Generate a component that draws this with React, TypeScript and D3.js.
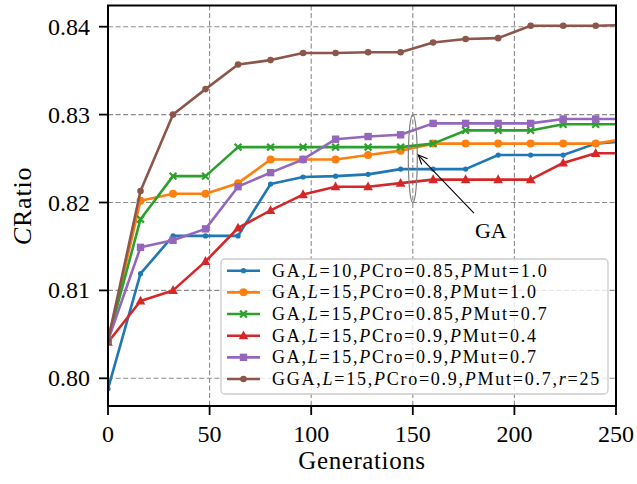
import React from "react";
import * as d3 from "d3";

const generations = [0, 16, 32, 48, 64, 80, 96, 112, 128, 144, 160, 176, 192, 208, 224, 240, 256];
const xTicks = [0, 50, 100, 150, 200, 250];
const yTicks = [0.8, 0.81, 0.82, 0.83, 0.84];
const yTickLabels = ["0.80", "0.81", "0.82", "0.83", "0.84"];

const gaL10Cro085Mut10 = [0.7988, 0.8119, 0.8162, 0.8162, 0.8162, 0.8221, 0.8229, 0.823, 0.8232, 0.8238, 0.8238, 0.8238, 0.8254, 0.8254, 0.8254, 0.8267, 0.8270];
const gaL15Cro08Mut10 = [0.8043, 0.8202, 0.821, 0.821, 0.8222, 0.8249, 0.8249, 0.8249, 0.8254, 0.8259, 0.8267, 0.8267, 0.8267, 0.8267, 0.8267, 0.8267, 0.8273];
const gaL15Cro085Mut07 = [0.8043, 0.8181, 0.823, 0.823, 0.8263, 0.8263, 0.8263, 0.8263, 0.8263, 0.8263, 0.8267, 0.8282, 0.8282, 0.8282, 0.8289, 0.8289, 0.8289];
const gaL15Cro09Mut04 = [0.8041, 0.8088, 0.81, 0.8133, 0.8171, 0.8191, 0.8209, 0.8218, 0.8218, 0.8222, 0.8226, 0.8226, 0.8226, 0.8226, 0.8245, 0.8256, 0.8256];
const gaL15Cro09Mut07 = [0.8043, 0.8149, 0.8157, 0.817, 0.8218, 0.8234, 0.8249, 0.8272, 0.8275, 0.8277, 0.829, 0.829, 0.829, 0.829, 0.8295, 0.8295, 0.8295];
const ggaL15Cro09Mut07r25 = [0.8043, 0.8213, 0.83, 0.8329, 0.8357, 0.8362, 0.837, 0.837, 0.8371, 0.8371, 0.8382, 0.8386, 0.8387, 0.8401, 0.8401, 0.8401, 0.8402];

type Tok = string | { i: string };
const legendLabels: Tok[][] = [
  ["GA,", { i: "L" }, "=10,", { i: "P" }, "Cro=0.85,", { i: "P" }, "Mut=1.0"],
  ["GA,", { i: "L" }, "=15,", { i: "P" }, "Cro=0.8,", { i: "P" }, "Mut=1.0"],
  ["GA,", { i: "L" }, "=15,", { i: "P" }, "Cro=0.85,", { i: "P" }, "Mut=0.7"],
  ["GA,", { i: "L" }, "=15,", { i: "P" }, "Cro=0.9,", { i: "P" }, "Mut=0.4"],
  ["GA,", { i: "L" }, "=15,", { i: "P" }, "Cro=0.9,", { i: "P" }, "Mut=0.7"],
  ["GGA,", { i: "L" }, "=15,", { i: "P" }, "Cro=0.9,", { i: "P" }, "Mut=0.7,", { i: "r" }, "=25"],
];

const seriesValues = [gaL10Cro085Mut10, gaL15Cro08Mut10, gaL15Cro085Mut07, gaL15Cro09Mut04, gaL15Cro09Mut07, ggaL15Cro09Mut07r25];
const colors = ["#1f77b4", "#ff7f0e", "#2ca02c", "#d62728", "#9467bd", "#8c564b"];
const markers = ["dot", "circle", "x", "triangle", "square", "bigdot"];

const FONT = "'Liberation Serif', 'Times New Roman', serif";

const W = 637, H = 484;
const L = 108, R = 616, T = 5.5, B = 406;

function Marker({ kind, x, y, color }: { kind: string; x: number; y: number; color: string }) {
  switch (kind) {
    case "dot":
      return <circle cx={x} cy={y} r={2.6} fill={color} />;
    case "bigdot":
      return <circle cx={x} cy={y} r={3.3} fill={color} />;
    case "circle":
      return <circle cx={x} cy={y} r={4} fill={color} />;
    case "triangle": {
      const s = 4.8;
      return <path d={`M${x},${y - s * 1.1}L${x + s},${y + s * 0.75}L${x - s},${y + s * 0.75}Z`} fill={color} />;
    }
    case "square":
      return <rect x={x - 3.7} y={y - 3.7} width={7.4} height={7.4} fill={color} />;
    case "x": {
      const s = 3.4;
      return (
        <g stroke={color} strokeWidth={2.2}>
          <line x1={x - s} y1={y - s} x2={x + s} y2={y + s} />
          <line x1={x - s} y1={y + s} x2={x + s} y2={y - s} />
        </g>
      );
    }
  }
  return null;
}

function TokText({ toks, x, y, size, ls }: { toks: Tok[]; x: number; y: number; size: number; ls: number }) {
  return (
    <text x={x} y={y} fontFamily={FONT} fontSize={size} letterSpacing={ls} fill="#000">
      {toks.map((t, k) =>
        typeof t === "string" ? <tspan key={k}>{t}</tspan> : <tspan key={k} fontStyle="italic">{t.i}</tspan>
      )}
    </text>
  );
}

export default function App() {
  const x = d3.scaleLinear().domain([0, 250]).range([L, R]);
  const y = d3.scaleLinear().domain([0.8, 0.84]).range([378.3, 26.7]);
  const line = d3.line<number>().x((_, i) => x(generations[i])).y((v) => y(v));

  // annotation
  const ex = x(150), eTop = y(0.83), eBot = y(0.82);
  const tip = [x(152.7), y(0.8254)];
  const tail = [x(180.1), y(0.8188)];
  const ang = Math.atan2(tail[1] - tip[1], tail[0] - tip[0]);
  const ah = 10, aw = 0.42;
  const a1 = [tip[0] + ah * Math.cos(ang + aw), tip[1] + ah * Math.sin(ang + aw)];
  const a2 = [tip[0] + ah * Math.cos(ang - aw), tip[1] + ah * Math.sin(ang - aw)];

  const legX = 221, legY = 259, legW = 387, legH = 135;
  const rowY0 = 270.7, rowPitch = 21.66;

  return (
    <svg width={W} height={H} style={{ position: "absolute", left: 0, top: 0, background: "#fff" }}>
      <defs>
        <clipPath id="plotclip">
          <rect x={L} y={T} width={R - L} height={B - T} />
        </clipPath>
      </defs>
      <rect x={0} y={0} width={W} height={H} fill="#fff" />
      {/* grid */}
      <g stroke="#8a8a8a" strokeWidth={1.1} strokeDasharray="5,2.6">
        {xTicks.slice(1, -1).map((t) => (
          <line key={t} x1={x(t)} x2={x(t)} y1={T} y2={B} />
        ))}
        {yTicks.map((t) => (
          <line key={t} x1={L} x2={R} y1={y(t)} y2={y(t)} />
        ))}
      </g>
      {/* series */}
      <g clipPath="url(#plotclip)">
        {seriesValues.map((vals, si) => (
          <g key={si}>
            <path d={line(vals) || ""} fill="none" stroke={colors[si]} strokeWidth={2.6} strokeLinejoin="round" />
            {vals.map((v, i) => (
              <Marker key={i} kind={markers[si]} x={x(generations[i])} y={y(v)} color={colors[si]} />
            ))}
          </g>
        ))}
      </g>
      {/* annotation */}
      <ellipse cx={ex} cy={(eTop + eBot) / 2} rx={x(2.2) - x(0)} ry={(eBot - eTop) / 2} fill="none" stroke="#808080" strokeWidth={1.2} />
      <line x1={tail[0]} y1={tail[1]} x2={tip[0]} y2={tip[1]} stroke="#000" strokeWidth={1.1} />
      <path d={`M${a1[0]},${a1[1]}L${tip[0]},${tip[1]}L${a2[0]},${a2[1]}`} fill="none" stroke="#000" strokeWidth={1.1} />
      <text x={x(188.4)} y={y(0.81596)} textAnchor="middle" fontFamily={FONT} fontSize={22}>GA</text>
      {/* legend */}
      <rect x={legX} y={legY} width={legW} height={legH} rx={4} fill="#fff" fillOpacity={0.8} stroke="#cccccc" strokeWidth={1.3} />
      {legendLabels.map((toks, i) => {
        const cy = rowY0 + i * rowPitch;
        return (
          <g key={i}>
            <line x1={227} x2={260} y1={cy} y2={cy} stroke={colors[i]} strokeWidth={2.6} />
            <Marker kind={markers[i]} x={243.5} y={cy} color={colors[i]} />
            <TokText toks={toks} x={272} y={cy + 6} size={18} ls={1.75} />
          </g>
        );
      })}
      {/* spines */}
      <rect x={L} y={T} width={R - L} height={B - T} fill="none" stroke="#000" strokeWidth={2} />
      {/* ticks */}
      <g stroke="#000" strokeWidth={1.8}>
        {xTicks.map((t) => (
          <line key={t} x1={x(t)} x2={x(t)} y1={B} y2={B + 9} />
        ))}
        {yTicks.map((t) => (
          <line key={t} x1={L - 9} x2={L} y1={y(t)} y2={y(t)} />
        ))}
      </g>
      <g fontFamily={FONT} fontSize={24}>
        {xTicks.map((t) => (
          <text key={t} x={x(t)} y={442} textAnchor="middle">{String(t)}</text>
        ))}
        {yTicks.map((t, i) => (
          <text key={t} x={90} y={y(t) + 8} textAnchor="end">{yTickLabels[i]}</text>
        ))}
      </g>
      <text x={(L + R) / 2} y={469} textAnchor="middle" fontFamily={FONT} fontSize={25} letterSpacing={0.6}>Generations</text>
      <text transform={`translate(31,206) rotate(-90)`} textAnchor="middle" fontFamily={FONT} fontSize={26} letterSpacing={0.8}>
        <tspan fontStyle="italic">C</tspan>
        <tspan>Ratio</tspan>
      </text>
    </svg>
  );
}
